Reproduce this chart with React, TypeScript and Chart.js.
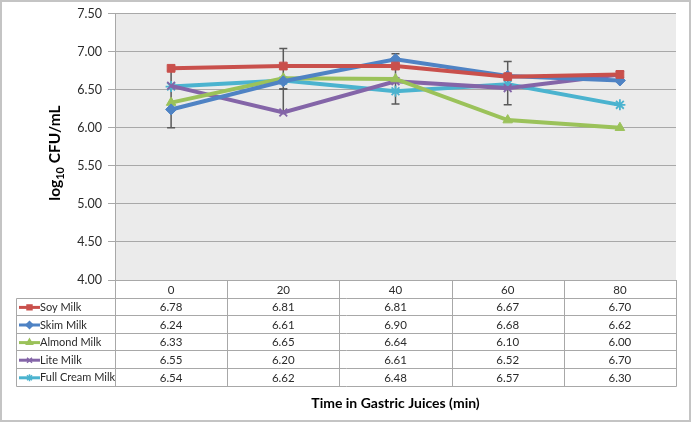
import React, { useEffect, useRef } from 'react';
import { Chart, registerables } from 'chart.js';
import { drawPoint } from 'chart.js/helpers';

Chart.register(...registerables);

const categories = ['0', '20', '40', '60', '80'];
const seriesNames = ['Soy Milk', 'Skim Milk', 'Almond Milk', 'Lite Milk', 'Full Cream Milk'];
const soyMilk = [6.78, 6.81, 6.81, 6.67, 6.7];
const skimMilk = [6.24, 6.61, 6.9, 6.68, 6.62];
const almondMilk = [6.33, 6.65, 6.64, 6.1, 6.0];
const liteMilk = [6.55, 6.2, 6.61, 6.52, 6.7];
const fullCreamMilk = [6.54, 6.62, 6.48, 6.57, 6.3];
const errorLow = [6.0, 6.51, 6.31, 6.3, null];
const errorHigh = [6.75, 7.04, 6.97, 6.87, null];
const errorLow2 = [null, 6.2, null, null, null];
const errorHigh2 = [null, 6.51, null, null, null];
const yMin = 4.0;
const yMax = 7.5;
const yStep = 0.5;
const xTitle = 'Time in Gastric Juices (min)';

const seriesValues = [soyMilk, skimMilk, almondMilk, liteMilk, fullCreamMilk];
const colors = ['#c9504c', '#4f83c4', '#9bc25a', '#8465a8', '#4bb3cf'];
const pointStyles = ['rect', 'rectRot', 'triangle', 'crossRot', 'star'];

const FONT = 'Lato, "Open Sans", sans-serif';
const TEXT = '#2b2b2b';
const GRID = '#a8a8a8';

const bgPlugin = {
  id: 'plotBg',
  beforeDraw(chart: any) {
    const { ctx, chartArea: a } = chart;
    ctx.save();
    ctx.fillStyle = '#ffffff';
    ctx.fillRect(0, 0, chart.width, chart.height);
    ctx.fillStyle = '#ebebeb';
    ctx.fillRect(a.left, a.top, a.right - a.left, a.bottom - a.top);
    ctx.restore();
  },
};

const errorPlugin = {
  id: 'errorBars',
  beforeDatasetsDraw(chart: any) {
    const { ctx } = chart;
    const xs = chart.scales.x;
    const ys = chart.scales.y;
    ctx.save();
    ctx.strokeStyle = '#595959';
    ctx.lineWidth = 1.5;
    const drawSet = (lows: (number | null)[], highs: (number | null)[]) => {
      lows.forEach((lo, i) => {
        const hi = highs[i];
        if (lo == null || hi == null) return;
        const x = xs.getPixelForValue(i);
        const y1 = ys.getPixelForValue(lo);
        const y2 = ys.getPixelForValue(hi);
        ctx.beginPath();
        ctx.moveTo(x, y1);
        ctx.lineTo(x, y2);
        ctx.moveTo(x - 4, y1);
        ctx.lineTo(x + 4, y1);
        ctx.moveTo(x - 4, y2);
        ctx.lineTo(x + 4, y2);
        ctx.stroke();
      });
    };
    drawSet(errorLow, errorHigh);
    drawSet(errorLow2, errorHigh2);
    ctx.restore();
  },
};

const tablePlugin = {
  id: 'dataTable',
  afterDraw(chart: any) {
    const { ctx, chartArea: a } = chart;
    const n = categories.length;
    const colW = (a.right - a.left) / n;
    const top = Math.round(a.bottom);
    const rowH = 17.6;
    const tableLeft = 16.5;
    const rows = seriesNames.length;
    const bottom = top + rowH * (rows + 1);
    ctx.save();
    ctx.strokeStyle = GRID;
    ctx.lineWidth = 1;
    ctx.beginPath();
    for (let i = 0; i <= n; i++) {
      const vx = Math.round(a.left + i * colW) + 0.5;
      ctx.moveTo(vx, top);
      ctx.lineTo(vx, Math.round(bottom) + 0.5);
    }
    for (let r = 1; r <= rows + 1; r++) {
      const hy = Math.round(top + r * rowH) + 0.5;
      ctx.moveTo(tableLeft, hy);
      ctx.lineTo(Math.round(a.right) + 0.5, hy);
    }
    ctx.moveTo(tableLeft, Math.round(top + rowH) + 0.5);
    ctx.lineTo(tableLeft, Math.round(bottom) + 0.5);
    ctx.stroke();

    ctx.fillStyle = TEXT;
    ctx.font = `11.5px ${FONT}`;
    ctx.textBaseline = 'middle';
    ctx.textAlign = 'center';
    categories.forEach((c, i) => {
      ctx.fillText(c, a.left + (i + 0.5) * colW, top + rowH / 2 + 1);
    });
    seriesNames.forEach((name, r) => {
      const cy = top + (r + 1.5) * rowH + 1;
      ctx.save();
      ctx.strokeStyle = colors[r];
      ctx.lineWidth = 3;
      ctx.beginPath();
      ctx.moveTo(19, cy);
      ctx.lineTo(40, cy);
      ctx.stroke();
      ctx.fillStyle = colors[r];
      ctx.lineWidth = 1.5;
      drawPoint(ctx, { pointStyle: pointStyles[r] as any, radius: 3.5, rotation: 0, borderWidth: 1.5 } as any, 29.5, cy);
      ctx.restore();
      ctx.fillStyle = TEXT;
      ctx.textAlign = 'left';
      ctx.font = `11px ${FONT}`;
      ctx.fillText(name, 40, cy);
      ctx.font = `11.5px ${FONT}`;
      ctx.textAlign = 'center';
      seriesValues[r].forEach((v, i) => {
        ctx.fillText(v.toFixed(2), a.left + (i + 0.5) * colW, cy);
      });
    });

    // x title
    ctx.font = `bold 14px ${FONT}`;
    ctx.fillStyle = '#000000';
    ctx.textAlign = 'center';
    ctx.fillText(xTitle, (a.left + a.right) / 2, 403);

    // y title with subscript
    ctx.save();
    ctx.translate(55, 153);
    ctx.rotate(-Math.PI / 2);
    const big = `bold 15.5px ${FONT}`;
    const small = `bold 11px ${FONT}`;
    ctx.font = big;
    const w1 = ctx.measureText('log').width;
    const w3 = ctx.measureText(' CFU/mL').width;
    ctx.font = small;
    const w2 = ctx.measureText('10').width;
    const total = w1 + w2 + w3;
    let x0 = -total / 2;
    ctx.textAlign = 'left';
    ctx.textBaseline = 'alphabetic';
    ctx.font = big;
    ctx.fillText('log', x0, 5);
    x0 += w1;
    ctx.font = small;
    ctx.fillText('10', x0, 9);
    x0 += w2;
    ctx.font = big;
    ctx.fillText(' CFU/mL', x0, 5);
    ctx.restore();

    // outer border
    ctx.strokeStyle = '#c4c4c4';
    ctx.lineWidth = 2;
    ctx.strokeRect(1, 1, chart.width - 3, chart.height - 3);
    ctx.restore();
  },
};

export default function App() {
  const ref = useRef<HTMLCanvasElement | null>(null);
  useEffect(() => {
    document.body.style.margin = '0';
    if (!ref.current) return;
    const chart = new Chart(ref.current, {
      type: 'line',
      data: {
        labels: categories,
        datasets: seriesNames.map((name, i) => ({
          label: name,
          data: seriesValues[i],
          borderColor: colors[i],
          backgroundColor: colors[i],
          borderWidth: 4,
          pointStyle: pointStyles[i] as any,
          pointRadius: 5.5,
          pointBorderWidth: i >= 3 ? 1.8 : 1,
          pointBorderColor: colors[i],
          pointBackgroundColor: colors[i],
          tension: 0,
          fill: false,
        })),
      },
      options: {
        animation: false,
        responsive: false,
        layout: { padding: { top: 8, right: 16, left: 0, bottom: 0 } },
        plugins: {
          legend: { display: false },
          tooltip: { enabled: false },
        },
        scales: {
          x: {
            type: 'category',
            offset: true,
            grid: { display: false },
            border: { display: false },
            ticks: { display: false },
            afterFit(s: any) {
              s.height = 143;
            },
          },
          y: {
            min: yMin,
            max: yMax,
            ticks: {
              stepSize: yStep,
              padding: 6,
              color: TEXT,
              font: { family: FONT, size: 12.5 },
              callback: (v: any) => Number(v).toFixed(2),
            },
            grid: { color: GRID, lineWidth: 1, tickLength: 7, drawTicks: true },
            border: { display: true, color: GRID, width: 1 },
            afterFit(s: any) {
              s.width = 115;
            },
          },
        },
      },
      plugins: [bgPlugin, errorPlugin, tablePlugin],
    });
    return () => chart.destroy();
  }, []);
  return (
    <div style={{ position: 'absolute', left: 0, top: 0, width: 692, height: 423 }}>
      <canvas ref={ref} width={692} height={423} style={{ width: 692, height: 423, display: 'block' }} />
    </div>
  );
}
